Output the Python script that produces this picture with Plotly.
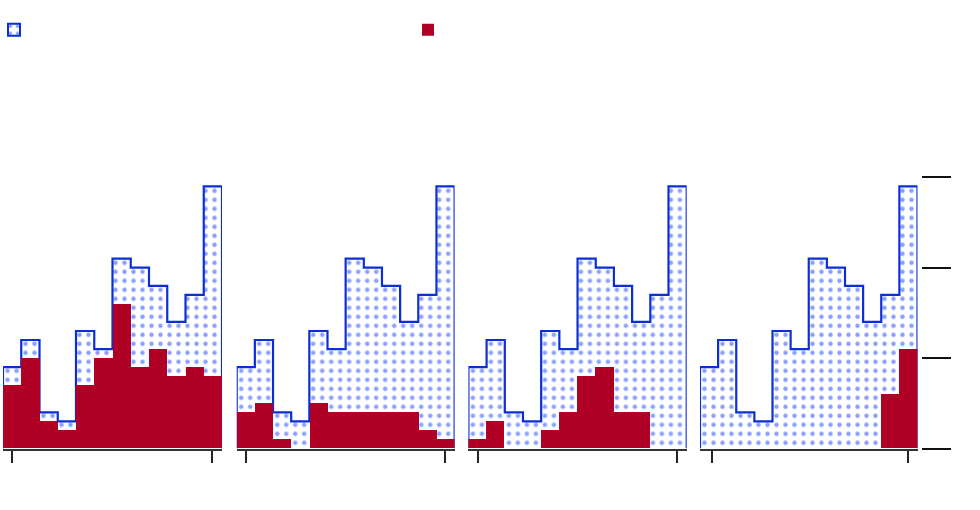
import plotly.graph_objects as go

# ---- data -------------------------------------------------------------
bins = list(range(12))                       # bin index (left edge)
total = [9, 12, 4, 3, 13, 11, 21, 20, 18, 14, 17, 29]   # same in every facet
facets = ["A", "B", "C", "D"]
subset_A = [7, 10, 3, 2, 7, 10, 16, 9, 11, 8, 9, 8]
subset_B = [4, 5, 1, 0, 5, 4, 4, 4, 4, 4, 2, 1]
subset_C = [1, 3, 0, 0, 2, 4, 8, 9, 4, 4, 0, 0]
subset_D = [0, 0, 0, 0, 0, 0, 0, 0, 0, 0, 6, 11]
subsets = [subset_A, subset_B, subset_C, subset_D]
x_ticks = [[0.52, 11.47], [0.52, 11.47], [0.52, 11.47], [0.65, 11.45]]
y_ticks = [0, 10, 20, 30]

# ---- style ------------------------------------------------------------
W, H = 980, 510
BLUE = "#0a2fd6"
DOT = "#8a9eff"
RED = "#b00026"
facet_px = [(3, 222), (236.7, 454.6), (468.4, 686.7), (700, 917.5)]
y_dom = [(H - 448.5) / H, (H - 177.3) / H]
pattern = dict(shape=".", fgcolor=DOT, bgcolor="white", size=9, solidity=0.19,
               fillmode="replace")

fig = go.Figure()

# legend-only swatch for the total
fig.add_trace(go.Bar(x=[None], y=[None], name="", showlegend=True,
                     marker=dict(color="white", pattern=pattern,
                                 line=dict(color=BLUE, width=2)),
                     xaxis="x", yaxis="y"))

edge_end = bins[-1] + 1
for i, f in enumerate(facets):
    xa = "x" if i == 0 else f"x{i+1}"
    ya = "y" if i == 0 else f"y{i+1}"
    xs = [bins[0]] + bins + [edge_end, edge_end]
    ys = [0] + total + [total[-1], 0]
    fig.add_trace(go.Scatter(x=xs, y=ys, mode="lines", line_shape="hv",
                             line=dict(color=BLUE, width=2.2),
                             fill="tozeroy", fillcolor="white",
                             fillpattern=pattern, showlegend=False,
                             hoverinfo="skip", xaxis=xa, yaxis=ya))

for i, f in enumerate(facets):
    xa = "x" if i == 0 else f"x{i+1}"
    fig.add_trace(go.Bar(x=bins, y=subsets[i], offset=0, width=1,
                         marker=dict(color=RED, line=dict(width=0)),
                         name="", legendgroup="sub", showlegend=(i == 0),
                         xaxis=xa, yaxis=f"y{i+5}"))

layout = dict(
    width=W, height=H, margin=dict(l=0, r=0, t=0, b=0, autoexpand=False),
    paper_bgcolor="white", plot_bgcolor="white", bargap=0,
    legend=dict(orientation="h", x=0, xanchor="left", y=0.97, yanchor="top",
                entrywidth=375, entrywidthmode="pixels", indentation=-6,
                font=dict(family="Liberation Sans", size=12)),
)
for i in range(4):
    sfx = "" if i == 0 else str(i + 1)
    x0, x1 = facet_px[i]
    layout[f"xaxis{sfx}"] = dict(
        domain=[x0 / W, x1 / W], range=[bins[0], edge_end], anchor=f"y{sfx}",
        showline=True, linecolor="#333", linewidth=2, ticks="outside",
        ticklen=12, tickwidth=1.5, tickcolor="#222", tickvals=x_ticks[i],
        showticklabels=False, showgrid=False, zeroline=False, automargin=False)
    ydict = dict(domain=y_dom, range=[0, 30], anchor=f"x{sfx}",
                 showgrid=False, zeroline=False, showline=False,
                 showticklabels=False, automargin=False)
    if i == 3:
        ydict.update(anchor="free", position=921 / W, side="right",
                     tickvals=y_ticks, ticks="outside", ticklen=29,
                     tickwidth=1.5, tickcolor="#111")
    else:
        ydict.update(visible=False)
    layout[f"yaxis{sfx}"] = ydict
    layout[f"yaxis{i+5}"] = dict(overlaying=f"y{sfx}", anchor=f"x{sfx}",
                                 range=[0, 30], visible=False)

fig.update_layout(**layout)
fig.write_html("out.html", config={"displayModeBar": False},
               post_script="document.body.style.margin='0px';")
